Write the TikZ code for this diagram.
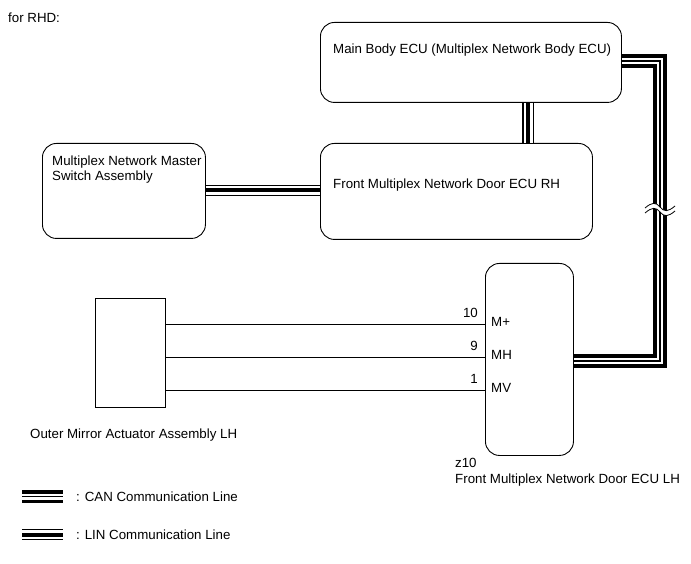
\documentclass[tikz,border=0pt]{standalone}
\usepackage{fontspec}
\setmainfont{Liberation Sans}
\begin{document}
\begin{tikzpicture}[x=1pt,y=-1pt,
  rbox/.style={draw, line width=0.9pt, rounded corners=14pt, inner sep=0pt},
  sbox/.style={draw, line width=0.9pt, inner sep=0pt},
  txt/.style={inner sep=0pt, font=\fontsize{13.3}{15.5}\selectfont},
  wire/.style={line width=0.9pt},
  canline/.style={line width=14pt, line join=miter, black,
    postaction={draw, white, line width=6pt, line join=miter},
    postaction={draw, black, line width=1.2pt, line join=miter}},
  linline/.style={line width=11.5pt, line join=miter, black,
    postaction={draw, white, line width=9pt, line join=miter},
    postaction={draw, black, line width=4pt, line join=miter}},
]
\useasboundingbox (0,0) rectangle (691,564);
\fill[white] (0,0) rectangle (691,564);

% boxes
\node[rbox, minimum width=301pt, minimum height=80pt, anchor=north west] (mb) at (320,22) {};
\node[rbox, minimum width=163pt, minimum height=95pt, anchor=north west] (ms) at (42,143) {};
\node[rbox, minimum width=272pt, minimum height=96pt, anchor=north west] (rh) at (320,143) {};
\node[rbox, minimum width=88pt, minimum height=192pt, anchor=north west] (lh) at (485,263) {};
\node[sbox, minimum width=70pt, minimum height=109pt, anchor=north west] (act) at (95,298) {};

% texts
\node[txt, anchor=west] (mbt) at (333,50) {Main Body ECU (Multiplex Network Body ECU)};
\node[txt, anchor=west, align=left] (mst) at (52,169.5) {Multiplex Network Master\\Switch Assembly};
\node[txt, anchor=west] (rht) at (333,185) {Front Multiplex Network Door ECU RH};
\node[txt, anchor=west] (rhd) at (8,18) {for RHD:};
\node[txt, anchor=west] (actt) at (30,435) {Outer Mirror Actuator Assembly LH};
\node[txt, anchor=west] (z10) at (455,463) {z10};
\node[txt, anchor=west] (lht) at (455,480) {Front Multiplex Network Door ECU LH};

% pins
\node[txt, anchor=east] (n10) at (478,313) {10};
\node[txt, anchor=east] (n9) at (478,346) {9};
\node[txt, anchor=east] (n1) at (478,379) {1};
\node[txt, anchor=west] (pm) at (491,322) {M+};
\node[txt, anchor=west] (ph) at (491,355) {MH};
\node[txt, anchor=west] (pv) at (491,388) {MV};

\draw[wire] (act.east |- 0,324) -- (lh.west |- 0,324);
\draw[wire] (act.east |- 0,357) -- (lh.west |- 0,357);
\draw[wire] (act.east |- 0,390) -- (lh.west |- 0,390);

% LIN lines
\draw[linline] (ms.east |- 0,190.5) -- (rh.west |- 0,190.5);
\draw[linline] (528,0 |- mb.south) -- (528,0 |- rh.north);

% CAN line
\coordinate (c1) at (660,61);
\coordinate (c2) at (660,361);
\draw[canline] (mb.east |- c1) -- (c1) -- (c2) -- (lh.east |- c2);

% break mark
\fill[white] (645,208) .. controls (652,202) and (656,202) .. (660,207)
  .. controls (664,212) and (668,212) .. (675,206) -- (675,211)
  .. controls (668,217) and (664,217) .. (660,212)
  .. controls (656,207) and (652,207) .. (645,213) -- cycle;
\draw[line width=0.8pt] (645,208) .. controls (652,202) and (656,202) .. (660,207)
  .. controls (664,212) and (668,212) .. (675,206);
\draw[line width=0.8pt] (645,213) .. controls (652,207) and (656,207) .. (660,212)
  .. controls (664,217) and (668,217) .. (675,211);

% legend
\coordinate (lc1) at (22,496.5);
\coordinate (lc2) at (63,496.5);
\draw[line width=13pt, black, postaction={draw, white, line width=6pt}, postaction={draw, black, line width=1.2pt}] (lc1) -- (lc2);
\node[txt, anchor=west] (lct) at (76,496.5) {: CAN Communication Line};
\coordinate (ll1) at (22,534.5);
\coordinate (ll2) at (63,534.5);
\draw[line width=11.5pt, black, postaction={draw, white, line width=9pt}, postaction={draw, black, line width=4pt}] (ll1) -- (ll2);
\node[txt, anchor=west] (llt) at (76,534.5) {: LIN Communication Line};
\end{tikzpicture}
\end{document}
